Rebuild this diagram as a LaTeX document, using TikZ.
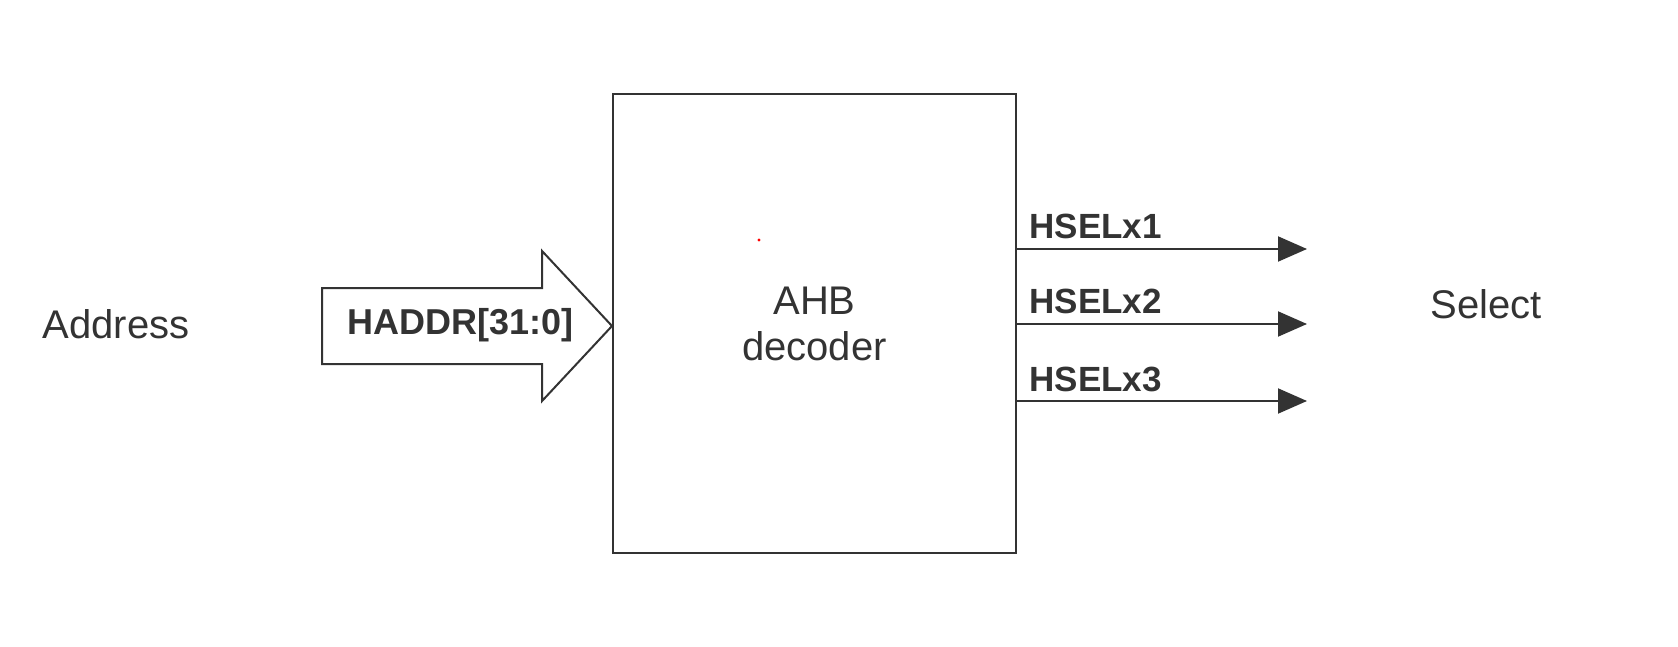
\documentclass[tikz,border=0pt]{standalone}
\usepackage{fontspec}
\setmainfont{Liberation Sans}
\usetikzlibrary{positioning}
\usetikzlibrary{shapes.arrows}
\usetikzlibrary{arrows.meta}
\definecolor{ink}{HTML}{333333}

\begin{document}
\begin{tikzpicture}[
        x=0.5pt, y=-0.5pt,
        every node/.style={text=ink},
        block/.style={rectangle, draw=ink, line width=1pt, minimum width=201.5pt, minimum height=229.5pt, align=center, font=\fontsize{20}{23}\selectfont},
        bus/.style={single arrow, draw=ink, line width=1pt, outer sep=0pt, single arrow head extend=18.5pt, single arrow tip angle=94, minimum height=145pt, inner xsep=0.9pt, inner ysep=10pt, text height=13pt, text depth=4pt, font=\bfseries\fontsize{18}{20}\selectfont},
        plain/.style={font=\fontsize{20}{23}\selectfont},
        sel/.style={draw=ink, line width=1pt, -{Triangle[length=14.5pt,width=12.5pt]}},
        sellabel/.style={inner sep=0pt, font=\bfseries\fontsize{17.5}{20}\selectfont}
    ]
        \useasboundingbox (0,0) rectangle (1678,647);

        \node[block] (dec) at (814.5,323.5) {AHB\\decoder};
        \node[bus, anchor=tip] (haddr) at (dec.west |- 0,326) {\hspace*{11.2pt}HADDR[31:0]};
        \node[plain] (addr) at (116,324) {Address};
        \node[plain] (select) at (1486,304) {Select};

        \foreach \i/\y in {1/249,2/324,3/401} {
            \draw[sel] (dec.east |- 0,\y) coordinate (s\i) -- (1307,\y) coordinate (e\i);
            \node[sellabel, anchor=base west] (hsel\i) at ([xshift=6pt, yshift=5pt]s\i) {HSELx\i};
        }

        \fill[red] (759,240) circle (0.8pt);
    \end{tikzpicture}
\end{document}
